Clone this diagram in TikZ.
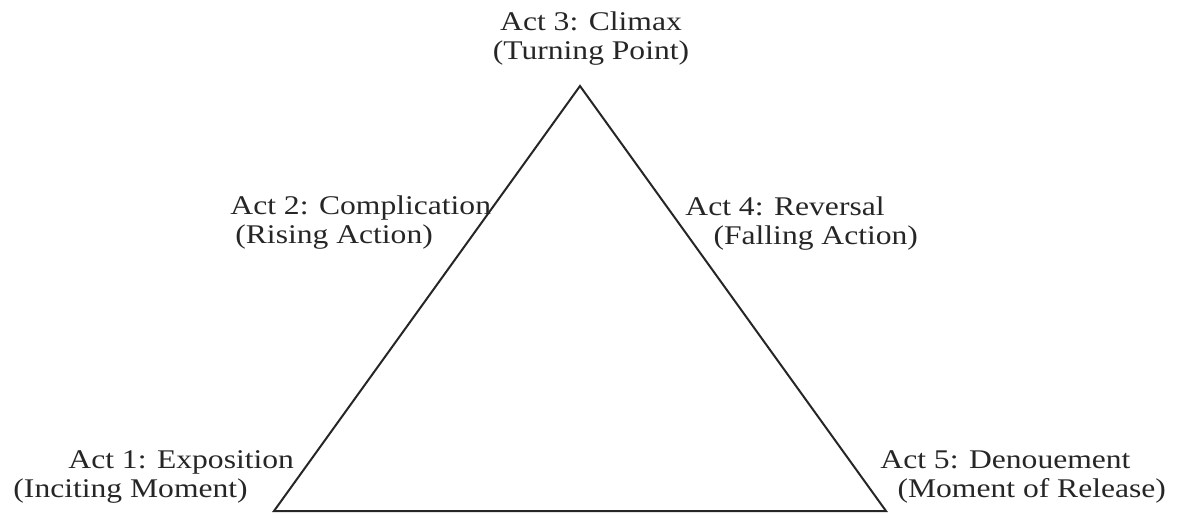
\documentclass[tikz,border=0pt]{standalone}
\usepackage{fontspec}
\setmainfont{Liberation Serif}
\definecolor{ink}{HTML}{262626}

\begin{document}
\begin{tikzpicture}[x=0.5pt,y=-0.5pt,
  lbl/.style={inner sep=0pt,text=ink,font=\fontsize{13.5}{14.5}\selectfont,
    xscale=1.17,transform shape}]
\useasboundingbox (0,0) rectangle (1179,513);

%triangle
\coordinate (apex) at (580,86);
\coordinate (left) at (274,511);
\coordinate (right) at (886,511);

\draw[ink,line width=1pt,line join=miter] (left) -- (apex) -- (right) -- cycle;

%acts (anchor base = last line)
\node[lbl,align=center,anchor=base] (act3) at (591,60) {Act 3: Climax\\(Turning Point)};
\node[lbl,align=left,anchor=base west] (act2) at (230,244) {Act 2: Complication\\\hspace*{2.1pt}(Rising Action)};
\node[lbl,align=left,anchor=base west] (act4) at (685,245) {Act 4: Reversal\\\hspace*{12pt}(Falling Action)};
\node[lbl,align=left,anchor=base west] (act1) at (13,497) {\hspace*{23.5pt}Act 1: Exposition\\(Inciting Moment)};
\node[lbl,align=left,anchor=base west] (act5) at (880,497) {Act 5: Denouement\\\hspace*{7.3pt}(Moment of Release)};

\end{tikzpicture}
\end{document}
